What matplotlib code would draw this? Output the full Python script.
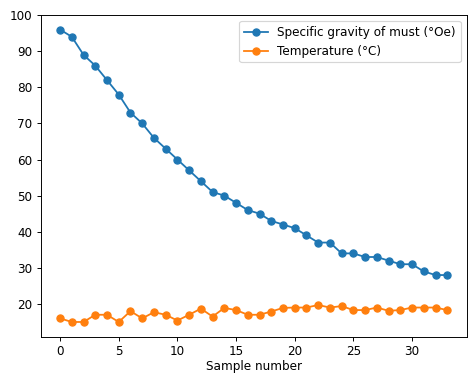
import matplotlib
matplotlib.use("Agg")
import matplotlib.pyplot as plt

sample = list(range(34))
gravity = [96, 94, 89, 86, 82, 78, 73, 70, 66, 63, 60, 57, 54, 51, 50, 48, 46,
           45, 43, 42, 41, 39, 37, 37, 34, 34, 33, 33, 32, 31, 31, 29, 28, 28]
temperature = [16, 15, 15, 17, 17, 15, 18, 16, 17.7, 17, 15.4, 17, 18.7, 16.5,
               18.9, 18.3, 17, 17, 17.9, 18.9, 19, 19, 19.7, 19, 19.4, 18.3,
               18.3, 19, 18.1, 18.3, 19, 19, 19, 18.3]


def main():
    dpi = 86
    fig, ax = plt.subplots(figsize=(468 / dpi, 374 / dpi), dpi=dpi)
    ax.plot(sample, gravity, marker="o", label="Specific gravity of must (°Oe)")
    ax.plot(sample, temperature, marker="o", label="Temperature (°C)")
    ax.set_xlabel("Sample number", labelpad=2)
    ax.legend()
    fig.subplots_adjust(left=0.087, right=0.997, top=0.96, bottom=0.1)
    fig.savefig("out.png", dpi=dpi)


if __name__ == "__main__":
    main()
